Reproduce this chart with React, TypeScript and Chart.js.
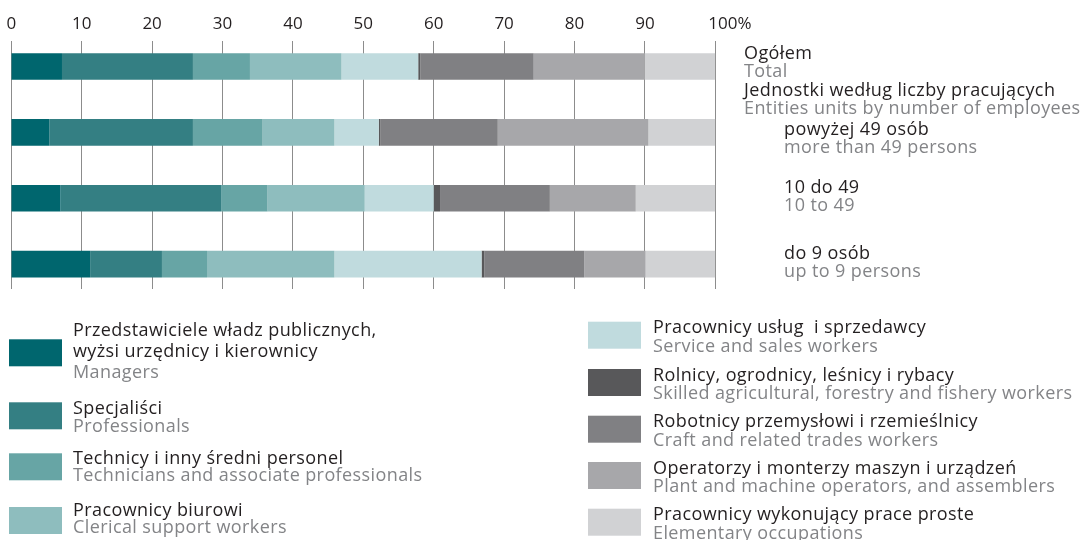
import React, { useEffect, useRef } from 'react';
import { Chart, registerables } from 'chart.js';

Chart.register(...registerables);

// ---- data ----
const categoriesPl = ['Ogółem', 'powyżej 49 osób', '10 do 49', 'do 9 osób'];
const categoriesEn = ['Total', 'more than 49 persons', '10 to 49', 'up to 9 persons'];
const groupHeaderPl = 'Jednostki według liczby pracujących';
const groupHeaderEn = 'Entities units by number of employees';

const tickValues = [0, 10, 20, 30, 40, 50, 60, 70, 80, 90, 100];
const tickLabels = ['0', '10', '20', '30', '40', '50', '60', '70', '80', '90', '100%'];

const seriesPl = [
  'Przedstawiciele władz publicznych,\nwyżsi urzędnicy i kierownicy',
  'Specjaliści',
  'Technicy i inny średni personel',
  'Pracownicy biurowi',
  'Pracownicy usług  i sprzedawcy',
  'Rolnicy, ogrodnicy, leśnicy i rybacy',
  'Robotnicy przemysłowi i rzemieślnicy',
  'Operatorzy i monterzy maszyn i urządzeń',
  'Pracownicy wykonujący prace proste',
];
const seriesEn = [
  'Managers',
  'Professionals',
  'Technicians and associate professionals',
  'Clerical support workers',
  'Service and sales workers',
  'Skilled agricultural, forestry and fishery workers',
  'Craft and related trades workers',
  'Plant and machine operators, and assemblers',
  'Elementary occupations',
];

const managers = [7.2, 5.4, 7.0, 11.2];
const professionals = [18.6, 20.4, 22.8, 10.2];
const technicians = [8.1, 9.9, 6.6, 6.4];
const clerical = [13.0, 10.2, 13.8, 18.1];
const service = [10.9, 6.3, 9.8, 20.9];
const agricultural = [0.3, 0.2, 0.9, 0.4];
const craft = [16.1, 16.7, 15.6, 14.2];
const operators = [15.8, 21.4, 12.2, 8.7];
const elementary = [10.0, 9.5, 11.3, 9.9];

const seriesValues = [managers, professionals, technicians, clerical, service, agricultural, craft, operators, elementary];

// ---- styles ----
const seriesColors = ['#00666e', '#347f83', '#67a5a5', '#8ebdbe', '#c0dbde', '#58585a', '#808083', '#a7a7aa', '#d1d2d4'];
const FONT = '"Open Sans", "Noto Sans", sans-serif';
const TEXT_DARK = '#231f20';
const TEXT_GRAY = '#838487';
const W = 1088;
const H = 540;
const GRID_TOP = 41;
const GRID_BOTTOM = 289;

const overlay = {
  id: 'overlay',
  beforeDatasetsDraw(chart: any) {
    const ctx = chart.ctx;
    const xs = chart.scales.x;
    ctx.save();
    ctx.strokeStyle = '#8c8c8c';
    ctx.lineWidth = 1;
    for (const v of tickValues) {
      const x = Math.floor(xs.getPixelForValue(v)) + 0.5;
      ctx.beginPath();
      ctx.moveTo(x, GRID_TOP);
      ctx.lineTo(x, GRID_BOTTOM);
      ctx.stroke();
    }
    ctx.restore();
  },
  afterDraw(chart: any) {
    const ctx = chart.ctx;
    const xs = chart.scales.x;
    const ys = chart.scales.y;
    ctx.save();
    ctx.textBaseline = 'alphabetic';

    // tick labels
    ctx.font = `17px ${FONT}`;
    ctx.fillStyle = TEXT_DARK;
    tickValues.forEach((v, i) => {
      const x = xs.getPixelForValue(v);
      if (i === tickValues.length - 1) {
        ctx.textAlign = 'left';
        ctx.fillText(tickLabels[i], x - 7, 28.5);
      } else {
        ctx.textAlign = 'center';
        ctx.fillText(tickLabels[i], x, 28.5);
      }
    });

    // category labels (right)
    ctx.textAlign = 'left';
    ctx.font = `18px ${FONT}`;
    (ctx as any).letterSpacing = '0.4px';
    const rowOffsets = [[-7.2, 10.8], [3, 20.5], [-5.2, 12.3], [-5, 12.5]];
    categoriesPl.forEach((pl, i) => {
      const yc = ys.getPixelForValue(i);
      const x = i === 0 ? 744 : 784;
      ctx.fillStyle = TEXT_DARK;
      ctx.fillText(pl, x, yc + rowOffsets[i][0]);
      ctx.fillStyle = TEXT_GRAY;
      ctx.fillText(categoriesEn[i], x, yc + rowOffsets[i][1]);
      if (i === 0) {
        ctx.fillStyle = TEXT_DARK;
        ctx.fillText(groupHeaderPl, 744, yc + 29.5);
        ctx.fillStyle = TEXT_GRAY;
        ctx.fillText(groupHeaderEn, 744, yc + 47.5);
      }
    });

    // legend
    const leftSwatchTop = [339.3, 402.3, 453.3, 507];
    const leftBaselines = [[335.5, 356.5, 377.5], [414, 431.5], [464, 481], [516, 533]];
    const rightSwatchTop = [321.7, 369, 415.7, 462, 508.7];
    chart.data.datasets.forEach((ds: any, i: number) => {
      let sx: number, sTop: number, tx: number, baselines: number[];
      if (i < 4) {
        sx = 9; sTop = leftSwatchTop[i]; tx = 73; baselines = leftBaselines[i];
      } else {
        sx = 588; sTop = rightSwatchTop[i - 4]; tx = 653;
        baselines = [sTop + 11.5, sTop + 30];
      }
      ctx.fillStyle = ds.backgroundColor;
      ctx.fillRect(sx, sTop, 53, 27);
      const plLines = seriesPl[i].split('\n');
      ctx.fillStyle = TEXT_DARK;
      plLines.forEach((ln, k) => ctx.fillText(ln, tx, baselines[k]));
      ctx.fillStyle = TEXT_GRAY;
      ctx.fillText(seriesEn[i], tx, baselines[plLines.length]);
    });
    ctx.restore();
  },
};

export default function App() {
  const ref = useRef<HTMLCanvasElement | null>(null);
  useEffect(() => {
    if (!ref.current) return;
    const chart = new Chart(ref.current, {
      type: 'bar',
      data: {
        labels: categoriesPl,
        datasets: seriesValues.map((vals, i) => ({
          label: seriesEn[i],
          data: vals,
          backgroundColor: seriesColors[i],
          borderWidth: 0,
          barPercentage: 0.405,
          categoryPercentage: 1,
        })),
      },
      options: {
        indexAxis: 'y',
        responsive: false,
        devicePixelRatio: 1,
        animation: false,
        layout: { padding: { left: 11.3, right: W - 715.3, top: 33.6, bottom: H - 297 } },
        scales: {
          x: { display: false, stacked: true, min: 0, max: 100 },
          y: { display: false, stacked: true },
        },
        plugins: { legend: { display: false }, tooltip: { enabled: false } },
      },
      plugins: [overlay],
    } as any);
    return () => chart.destroy();
  }, []);
  return (
    <div style={{ position: 'absolute', left: 0, top: 0, width: W, height: H, background: '#fff' }}>
      <canvas ref={ref} width={W} height={H} />
    </div>
  );
}
